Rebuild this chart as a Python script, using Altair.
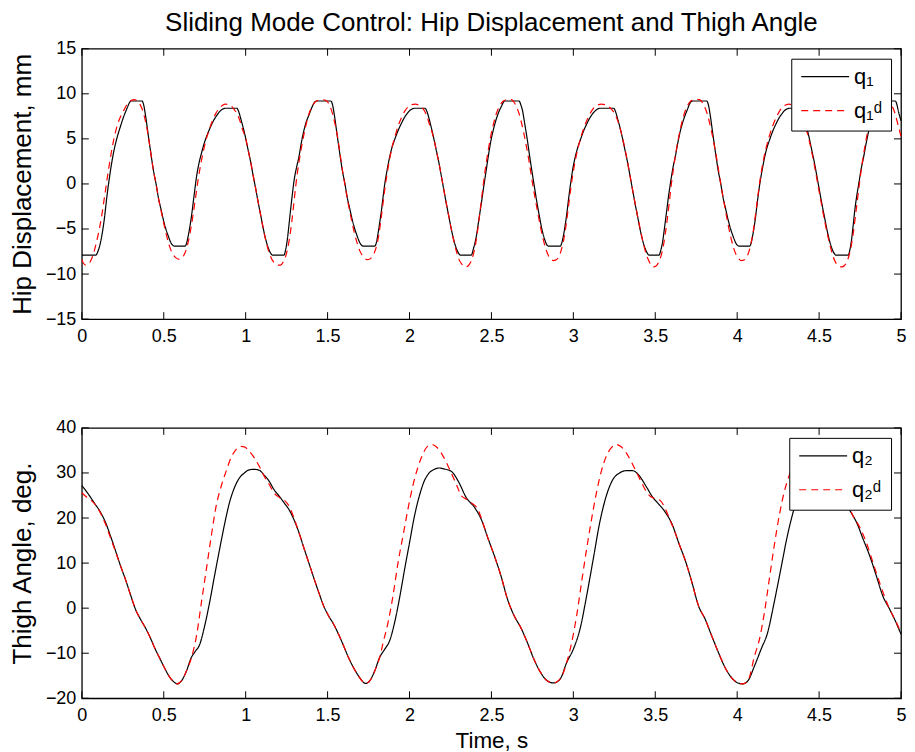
import altair as alt
import pandas as pd

# ---------------- data ----------------
x_ticks = [0, 0.5, 1, 1.5, 2, 2.5, 3, 3.5, 4, 4.5, 5]
y1_ticks = [-15, -10, -5, 0, 5, 10, 15]
y2_ticks = [-20, -10, 0, 10, 20, 30, 40]

series_top = ["q\u2081", "q\u2081\u1d48"]
series_bot = ["q\u2082", "q\u2082\u1d48"]

# hip displacement q1 (black, solid)
q1_pts = [
    (0.000, -7.9), (0.085, -7.9), (0.100, -7.4), (0.115, -6.4), (0.135, -4.2), (0.155, -1.1),
    (0.175, 1.5), (0.196, 3.7), (0.216, 5.2), (0.236, 6.4), (0.256, 7.5), (0.276, 8.4),
    (0.290, 9.0), (0.300, 9.2), (0.367, 9.2), (0.377, 8.8), (0.387, 7.8), (0.407, 5.2),
    (0.422, 3.3), (0.437, 1.5), (0.453, 0.0), (0.468, -1.6), (0.483, -2.8), (0.498, -4.0),
    (0.513, -5.0), (0.528, -5.8), (0.543, -6.5), (0.558, -6.85), (0.568, -6.9), (0.629, -6.9),
    (0.639, -6.6), (0.649, -5.8), (0.659, -4.8), (0.669, -3.6), (0.685, -1.3), (0.700, 0.8),
    (0.715, 2.3), (0.730, 3.4), (0.745, 4.4), (0.760, 5.2), (0.780, 6.1), (0.800, 6.9),
    (0.820, 7.5), (0.840, 8.0), (0.860, 8.3), (0.875, 8.4), (0.946, 8.4), (0.958, 8.0),
    (0.972, 7.1), (0.987, 6.1), (1.002, 4.9), (1.017, 3.6), (1.032, 2.3), (1.047, 0.8),
    (1.063, -0.7), (1.078, -2.2), (1.093, -3.6), (1.108, -5.0), (1.123, -6.2), (1.138, -7.1),
    (1.153, -7.7), (1.165, -7.9), (1.234, -7.9), (1.244, -7.3), (1.254, -6.2), (1.264, -4.6),
    (1.274, -2.9), (1.284, -1.3), (1.294, 0.2), (1.310, 1.8), (1.325, 3.0), (1.340, 4.6),
    (1.355, 5.9), (1.370, 6.9), (1.385, 7.6), (1.400, 8.3), (1.415, 8.9), (1.425, 9.15),
    (1.435, 9.2), (1.520, 9.2), (1.530, 8.8), (1.540, 7.8), (1.560, 5.2), (1.575, 3.3),
    (1.590, 1.5), (1.606, 0.0), (1.621, -1.6), (1.636, -2.8), (1.651, -4.0), (1.666, -5.0),
    (1.681, -5.8), (1.696, -6.5), (1.711, -6.85), (1.721, -6.9), (1.788, -6.9), (1.798, -6.5),
    (1.808, -5.5), (1.818, -4.3), (1.829, -2.9), (1.839, -1.4), (1.849, 0.0), (1.864, 1.6),
    (1.879, 3.0), (1.894, 4.1), (1.909, 4.9), (1.930, 5.9), (1.950, 6.7), (1.970, 7.4),
    (1.990, 7.9), (2.005, 8.2), (2.020, 8.35), (2.030, 8.4), (2.095, 8.4), (2.107, 8.0),
    (2.120, 7.2), (2.135, 6.1), (2.150, 4.9), (2.165, 3.6), (2.180, 2.3), (2.195, 0.8),
    (2.210, -0.7), (2.225, -2.2), (2.240, -3.6), (2.255, -5.0), (2.270, -6.2), (2.285, -7.1),
    (2.300, -7.7), (2.310, -7.9), (2.377, -7.9), (2.390, -7.2), (2.408, -5.8), (2.423, -4.0),
    (2.438, -2.2), (2.453, -0.3), (2.468, 1.5), (2.483, 3.3), (2.498, 4.9), (2.513, 6.1),
    (2.528, 7.1), (2.543, 7.9), (2.558, 8.5), (2.570, 8.95), (2.580, 9.2), (2.669, 9.2),
    (2.679, 8.8), (2.689, 8.2), (2.704, 6.6), (2.719, 4.9), (2.734, 3.0), (2.749, 1.2),
    (2.764, -0.5), (2.779, -2.2), (2.794, -3.7), (2.809, -5.1), (2.824, -6.1), (2.840, -6.8),
    (2.850, -6.9), (2.920, -6.9), (2.930, -6.5), (2.940, -5.7), (2.950, -4.6), (2.960, -3.3),
    (2.972, -1.5), (2.983, 0.0), (2.998, 1.8), (3.013, 3.1), (3.028, 4.1), (3.043, 4.9),
    (3.063, 5.9), (3.083, 6.7), (3.103, 7.4), (3.123, 7.9), (3.143, 8.25), (3.160, 8.4),
    (3.246, 8.4), (3.258, 8.0), (3.272, 7.1), (3.287, 6.1), (3.302, 4.9), (3.317, 3.6),
    (3.332, 2.3), (3.347, 0.8), (3.362, -0.7), (3.377, -2.2), (3.392, -3.6), (3.407, -5.0),
    (3.422, -6.2), (3.437, -7.1), (3.452, -7.7), (3.462, -7.9), (3.523, -7.9), (3.533, -7.4),
    (3.545, -6.4), (3.557, -4.8), (3.569, -3.1), (3.580, -1.5), (3.592, 0.0), (3.607, 1.7),
    (3.622, 3.0), (3.637, 4.5), (3.652, 5.8), (3.667, 6.8), (3.682, 7.6), (3.697, 8.3),
    (3.710, 8.9), (3.720, 9.15), (3.730, 9.2), (3.814, 9.2), (3.824, 8.8), (3.834, 7.8),
    (3.854, 5.2), (3.869, 3.3), (3.884, 1.5), (3.900, 0.0), (3.915, -1.6), (3.930, -2.8),
    (3.945, -4.0), (3.960, -5.0), (3.975, -5.8), (3.990, -6.5), (4.005, -6.85), (4.015, -6.9),
    (4.076, -6.9), (4.086, -6.5), (4.096, -5.6), (4.106, -4.5), (4.116, -3.1), (4.126, -1.6),
    (4.138, 0.0), (4.153, 1.6), (4.168, 3.0), (4.183, 4.1), (4.198, 4.9), (4.218, 5.9),
    (4.238, 6.7), (4.258, 7.4), (4.278, 7.9), (4.293, 8.2), (4.308, 8.35), (4.318, 8.4),
    (4.387, 8.4), (4.399, 8.0), (4.412, 7.1), (4.427, 6.1), (4.442, 4.9), (4.457, 3.6),
    (4.472, 2.3), (4.487, 0.8), (4.502, -0.7), (4.517, -2.2), (4.532, -3.6), (4.547, -5.0),
    (4.562, -6.2), (4.577, -7.1), (4.592, -7.7), (4.602, -7.9), (4.678, -7.9), (4.688, -7.3),
    (4.698, -6.2), (4.708, -4.6), (4.718, -2.9), (4.730, -1.3), (4.742, 0.0), (4.757, 1.7),
    (4.772, 3.0), (4.787, 4.5), (4.802, 5.8), (4.817, 6.8), (4.832, 7.6), (4.847, 8.3),
    (4.862, 8.9), (4.872, 9.15), (4.882, 9.2), (4.965, 9.2), (4.975, 8.8), (4.985, 8.0),
    (5.000, 7.0),
]

# desired hip displacement q1d (red, dashed)
q1d_pts = [
    (0.000, -8.4), (0.010, -8.8), (0.025, -9.0), (0.040, -8.9), (0.055, -8.5), (0.070, -7.8),
    (0.085, -6.8), (0.100, -5.6), (0.118, -3.9), (0.138, -1.5), (0.158, 1.0), (0.178, 3.3),
    (0.198, 5.2), (0.218, 6.6), (0.240, 7.6), (0.260, 8.3), (0.275, 8.8), (0.290, 9.1),
    (0.305, 9.3), (0.320, 9.35), (0.335, 9.25), (0.350, 8.95), (0.365, 8.45), (0.380, 7.6),
    (0.395, 6.4), (0.410, 4.8), (0.422, 3.3), (0.437, 1.5), (0.453, 0.0), (0.468, -1.6),
    (0.483, -2.9), (0.498, -4.2), (0.513, -5.4), (0.528, -6.5), (0.545, -7.4), (0.560, -7.9),
    (0.575, -8.2), (0.590, -8.35), (0.605, -8.3), (0.620, -8.0), (0.635, -7.4), (0.650, -6.4),
    (0.665, -5.0), (0.680, -3.3), (0.695, -1.4), (0.710, 0.5), (0.725, 2.1), (0.740, 3.5),
    (0.757, 4.8), (0.777, 6.0), (0.797, 7.0), (0.817, 7.8), (0.837, 8.35), (0.857, 8.7),
    (0.877, 8.85), (0.897, 8.8), (0.915, 8.6), (0.932, 8.2), (0.950, 7.7), (0.965, 7.0),
    (0.980, 6.1), (1.002, 4.9), (1.017, 3.6), (1.032, 2.3), (1.047, 0.8), (1.063, -0.7),
    (1.078, -2.2), (1.093, -3.6), (1.108, -5.0), (1.123, -6.3), (1.138, -7.3), (1.153, -8.1),
    (1.168, -8.6), (1.183, -8.9), (1.198, -9.0), (1.213, -9.0), (1.228, -8.7), (1.243, -8.1),
    (1.256, -7.2), (1.268, -6.0), (1.280, -4.4), (1.292, -2.5), (1.305, -0.3), (1.325, 2.4),
    (1.345, 4.5), (1.365, 6.3), (1.385, 7.7), (1.405, 8.6), (1.425, 9.1), (1.445, 9.3),
    (1.465, 9.35), (1.485, 9.3), (1.500, 9.1), (1.515, 8.6), (1.530, 7.8), (1.545, 6.7),
    (1.560, 5.3), (1.575, 3.5), (1.590, 1.6), (1.606, -0.1), (1.621, -1.7), (1.636, -3.1),
    (1.651, -4.4), (1.666, -5.6), (1.681, -6.6), (1.696, -7.4), (1.711, -7.9), (1.726, -8.25),
    (1.741, -8.4), (1.756, -8.35), (1.771, -8.1), (1.786, -7.6), (1.800, -6.8), (1.812, -5.7),
    (1.824, -4.2), (1.836, -2.5), (1.849, -0.6), (1.864, 1.2), (1.879, 2.8), (1.894, 4.1),
    (1.912, 5.3), (1.932, 6.5), (1.952, 7.4), (1.972, 8.1), (1.992, 8.55), (2.012, 8.8),
    (2.035, 8.85), (2.060, 8.7), (2.080, 8.4), (2.097, 7.9), (2.110, 7.3), (2.122, 6.6),
    (2.135, 5.9), (2.150, 4.9), (2.165, 3.6), (2.180, 2.3), (2.195, 0.8), (2.210, -0.7),
    (2.225, -2.2), (2.240, -3.6), (2.255, -5.0), (2.270, -6.3), (2.285, -7.4), (2.300, -8.3),
    (2.315, -8.8), (2.330, -9.1), (2.345, -9.2), (2.360, -9.05), (2.375, -8.6), (2.390, -7.8),
    (2.402, -6.8), (2.414, -5.4), (2.426, -3.7), (2.438, -1.9), (2.453, 0.3), (2.468, 2.3),
    (2.483, 4.0), (2.498, 5.5), (2.513, 6.7), (2.528, 7.7), (2.543, 8.4), (2.558, 8.9),
    (2.573, 9.2), (2.590, 9.35), (2.607, 9.4), (2.622, 9.35), (2.637, 9.1), (2.652, 8.6),
    (2.667, 7.9), (2.682, 6.9), (2.697, 5.7), (2.712, 4.3), (2.727, 2.8), (2.742, 1.1),
    (2.757, -0.6), (2.772, -2.1), (2.787, -3.6), (2.802, -5.0), (2.817, -6.2), (2.832, -7.2),
    (2.847, -7.9), (2.862, -8.3), (2.877, -8.5), (2.892, -8.45), (2.907, -8.2), (2.922, -7.6),
    (2.935, -6.7), (2.947, -5.6), (2.959, -4.1), (2.971, -2.4), (2.985, -0.4), (3.000, 1.4),
    (3.015, 2.9), (3.030, 4.1), (3.048, 5.3), (3.068, 6.4), (3.088, 7.3), (3.108, 8.0),
    (3.128, 8.5), (3.148, 8.75), (3.170, 8.85), (3.195, 8.8), (3.215, 8.6), (3.235, 8.25),
    (3.252, 7.8), (3.265, 7.3), (3.280, 6.5), (3.295, 5.5), (3.310, 4.3), (3.325, 3.0),
    (3.340, 1.5), (3.355, 0.0), (3.370, -1.5), (3.385, -2.9), (3.400, -4.3), (3.415, -5.6),
    (3.430, -6.8), (3.445, -7.8), (3.460, -8.5), (3.475, -9.0), (3.490, -9.2), (3.505, -9.1),
    (3.520, -8.7), (3.535, -8.0), (3.548, -7.0), (3.560, -5.7), (3.572, -4.1), (3.584, -2.3),
    (3.597, -0.2), (3.612, 1.8), (3.627, 3.6), (3.642, 5.1), (3.657, 6.4), (3.672, 7.5),
    (3.687, 8.3), (3.702, 8.85), (3.717, 9.2), (3.735, 9.35), (3.752, 9.4), (3.770, 9.35),
    (3.785, 9.1), (3.800, 8.6), (3.815, 7.9), (3.830, 6.9), (3.845, 5.7), (3.860, 4.3),
    (3.875, 2.8), (3.890, 1.1), (3.905, -0.6), (3.920, -2.1), (3.935, -3.6), (3.950, -5.0),
    (3.965, -6.2), (3.980, -7.2), (3.995, -7.9), (4.010, -8.3), (4.025, -8.5), (4.040, -8.45),
    (4.055, -8.2), (4.070, -7.6), (4.083, -6.7), (4.095, -5.6), (4.107, -4.1), (4.119, -2.4),
    (4.133, -0.4), (4.148, 1.4), (4.163, 2.9), (4.178, 4.1), (4.196, 5.3), (4.216, 6.4),
    (4.236, 7.3), (4.256, 8.0), (4.276, 8.5), (4.296, 8.75), (4.316, 8.85), (4.336, 8.75),
    (4.353, 8.55), (4.370, 8.2), (4.385, 7.8), (4.400, 7.2), (4.415, 6.4), (4.430, 5.5),
    (4.445, 4.4), (4.460, 3.1), (4.475, 1.7), (4.490, 0.2), (4.505, -1.3), (4.520, -2.8),
    (4.535, -4.2), (4.550, -5.5), (4.565, -6.7), (4.580, -7.7), (4.595, -8.5), (4.610, -8.95),
    (4.625, -9.15), (4.640, -9.2), (4.655, -9.05), (4.670, -8.6), (4.685, -7.8), (4.697, -6.8),
    (4.709, -5.4), (4.721, -3.7), (4.733, -1.9), (4.748, 0.3), (4.763, 2.3), (4.778, 4.0),
    (4.793, 5.5), (4.808, 6.7), (4.823, 7.7), (4.838, 8.4), (4.853, 8.9), (4.868, 9.2),
    (4.885, 9.35), (4.902, 9.4), (4.917, 9.35), (4.932, 9.1), (4.947, 8.6), (4.962, 7.9),
    (4.977, 6.9), (4.990, 6.0), (5.000, 5.2),
]

# thigh angle q2 (black, solid)
q2_pts = [
    (0.000, 27.2), (0.034, 25.6), (0.075, 23.4), (0.115, 21.2), (0.145, 19.0), (0.175, 16.0),
    (0.206, 12.7), (0.236, 9.4), (0.266, 6.4), (0.296, 3.1), (0.327, -0.2), (0.357, -2.4),
    (0.387, -4.3), (0.417, -6.5), (0.448, -9.1), (0.478, -11.3), (0.508, -13.5), (0.538, -15.4),
    (0.560, -16.3), (0.583, -16.8), (0.609, -16.1), (0.639, -13.9), (0.669, -10.9), (0.690, -9.7),
    (0.720, -8.0), (0.750, -3.9), (0.780, 1.3), (0.810, 7.2), (0.841, 13.1), (0.871, 18.6),
    (0.901, 23.4), (0.931, 26.7), (0.962, 28.9), (0.992, 30.0), (1.022, 30.7), (1.052, 30.8),
    (1.083, 30.6), (1.113, 29.5), (1.143, 28.2), (1.173, 26.3), (1.204, 24.9), (1.234, 23.4),
    (1.264, 21.9), (1.294, 19.7), (1.325, 16.8), (1.355, 13.4), (1.385, 10.1), (1.415, 6.8),
    (1.446, 3.5), (1.476, 0.5), (1.506, -1.7), (1.536, -3.5), (1.567, -5.8), (1.597, -8.3),
    (1.627, -10.9), (1.657, -13.1), (1.688, -15.0), (1.710, -16.1), (1.732, -16.7), (1.758, -16.1),
    (1.788, -13.9), (1.818, -10.9), (1.849, -9.1), (1.879, -7.2), (1.909, -3.2), (1.940, 2.4),
    (1.970, 8.6), (2.000, 14.5), (2.030, 20.4), (2.060, 24.9), (2.090, 28.2), (2.120, 30.0),
    (2.151, 30.8), (2.181, 31.1), (2.210, 30.9), (2.257, 30.3), (2.297, 28.2), (2.347, 24.5),
    (2.398, 22.3), (2.438, 19.7), (2.478, 15.6), (2.518, 11.6), (2.558, 7.2), (2.598, 2.0),
    (2.639, -1.7), (2.679, -4.3), (2.719, -7.6), (2.759, -11.3), (2.799, -14.2), (2.840, -16.1),
    (2.880, -16.6), (2.920, -15.7), (2.960, -12.0), (3.000, -9.1), (3.041, -4.6), (3.081, 2.7),
    (3.121, 10.8), (3.161, 19.0), (3.201, 24.9), (3.242, 28.6), (3.282, 30.0), (3.322, 30.5),
    (3.362, 30.5), (3.402, 29.4), (3.443, 27.1), (3.483, 24.7), (3.523, 23.0), (3.563, 21.2),
    (3.603, 18.6), (3.643, 14.5), (3.684, 10.5), (3.724, 5.7), (3.764, 0.5), (3.804, -2.4),
    (3.844, -6.1), (3.885, -9.8), (3.925, -13.1), (3.965, -15.4), (4.005, -16.6), (4.035, -16.8),
    (4.066, -16.1), (4.106, -12.8), (4.146, -9.1), (4.186, -5.4), (4.226, 1.3), (4.266, 8.6),
    (4.306, 16.0), (4.346, 21.9), (4.386, 26.5), (4.426, 29.2), (4.466, 30.3), (4.506, 30.5),
    (4.546, 29.8), (4.586, 27.8), (4.626, 25.0), (4.666, 23.0), (4.689, 21.6), (4.729, 19.0),
    (4.769, 15.3), (4.809, 11.6), (4.849, 7.2), (4.889, 2.7), (4.930, -0.2), (4.970, -3.2),
    (5.000, -5.8),
]

# desired thigh angle q2d (red, dashed)
q2d_pts = [
    (0.000, 25.6), (0.030, 24.6), (0.060, 23.8), (0.090, 22.6), (0.115, 21.0), (0.145, 18.6),
    (0.175, 15.6), (0.206, 12.5), (0.236, 9.4), (0.266, 6.4), (0.296, 3.1), (0.327, -0.2),
    (0.357, -2.4), (0.387, -4.3), (0.417, -6.5), (0.448, -9.1), (0.478, -11.3), (0.508, -13.5),
    (0.538, -15.4), (0.560, -16.3), (0.583, -16.8), (0.609, -16.1), (0.639, -13.9), (0.669, -11.0),
    (0.700, -6.1), (0.730, 1.3), (0.760, 8.6), (0.790, 16.0), (0.820, 22.7), (0.851, 27.1),
    (0.881, 30.4), (0.911, 33.4), (0.941, 35.2), (0.972, 35.9), (0.992, 35.8), (1.022, 34.8),
    (1.052, 33.4), (1.083, 31.5), (1.113, 29.3), (1.143, 27.5), (1.173, 25.6), (1.204, 24.6),
    (1.234, 24.0), (1.264, 22.7), (1.294, 20.1), (1.325, 16.8), (1.355, 13.4), (1.385, 10.1),
    (1.415, 6.8), (1.446, 3.5), (1.476, 0.5), (1.506, -1.7), (1.536, -3.5), (1.567, -5.8),
    (1.597, -8.3), (1.627, -10.9), (1.657, -13.1), (1.688, -15.0), (1.710, -16.1), (1.732, -16.7),
    (1.758, -16.1), (1.788, -13.9), (1.818, -10.9), (1.840, -7.5), (1.869, -3.2), (1.899, 2.7),
    (1.930, 10.1), (1.960, 16.0), (1.990, 21.9), (2.020, 27.1), (2.050, 31.1), (2.080, 34.1),
    (2.110, 35.9), (2.140, 36.3), (2.170, 35.6), (2.210, 33.4), (2.250, 30.4), (2.290, 27.1),
    (2.317, 24.9), (2.357, 24.0), (2.380, 23.3), (2.418, 21.9), (2.438, 20.0), (2.478, 15.6),
    (2.518, 11.6), (2.558, 7.2), (2.598, 2.0), (2.639, -1.7), (2.679, -4.3), (2.719, -7.6),
    (2.759, -11.3), (2.799, -14.2), (2.840, -16.1), (2.880, -16.6), (2.920, -15.7), (2.960, -12.0),
    (2.990, -7.6), (3.020, -1.7), (3.050, 5.7), (3.081, 13.1), (3.111, 19.7), (3.141, 25.6),
    (3.171, 30.4), (3.201, 33.7), (3.232, 35.6), (3.262, 36.3), (3.292, 35.8), (3.322, 34.5),
    (3.352, 32.6), (3.382, 30.4), (3.412, 28.2), (3.443, 26.0), (3.473, 24.7), (3.503, 24.3),
    (3.533, 23.8), (3.563, 21.9), (3.593, 19.3), (3.623, 16.6), (3.643, 14.5), (3.684, 10.5),
    (3.724, 5.7), (3.764, 0.5), (3.804, -2.4), (3.844, -6.1), (3.885, -9.8), (3.925, -13.1),
    (3.965, -15.4), (4.005, -16.6), (4.035, -16.8), (4.066, -16.1), (4.106, -10.6), (4.136, -6.9),
    (4.166, -1.0), (4.196, 6.4), (4.226, 13.8), (4.256, 20.4), (4.286, 25.6), (4.316, 29.3),
    (4.346, 31.9), (4.376, 34.2), (4.406, 35.6), (4.436, 36.0), (4.466, 35.4), (4.496, 33.8),
    (4.526, 31.8), (4.556, 29.6), (4.586, 27.5), (4.616, 25.6), (4.646, 24.4), (4.676, 23.2),
    (4.700, 21.0), (4.749, 17.9), (4.789, 14.5), (4.829, 10.1), (4.869, 5.7), (4.930, -0.2),
    (4.970, -3.0), (5.000, -5.4),
]

# ---------------- build tables ----------------
def frame(pts, name):
    return pd.DataFrame({"t": [p[0] for p in pts], "v": [p[1] for p in pts], "series": name})

df_top = pd.concat([frame(q1_pts, series_top[0]), frame(q1d_pts, series_top[1])], ignore_index=True)
df_bot = pd.concat([frame(q2_pts, series_bot[0]), frame(q2d_pts, series_bot[1])], ignore_index=True)

W, H = 821, 271
TL = 7  # inward tick length
FONT = "Liberation Sans, Arial, Helvetica, DejaVu Sans, sans-serif"


def panel(df, series, ydom, yticks, ytitle, xtitle):
    xscale = alt.Scale(domain=[0, 5], nice=False, zero=False)
    yscale = alt.Scale(domain=ydom, nice=False, zero=False)
    if xtitle is None:
        xaxis = alt.Axis(values=x_ticks, format="~r", title=None, labelPadding=8)
    else:
        xaxis = alt.Axis(values=x_ticks, format="~r", title=xtitle, labelPadding=8,
                         titlePadding=5, titleFontSize=22.5)
    yaxis = alt.Axis(values=yticks, format="~r", title=ytitle, labelPadding=6, titlePadding=10)
    leg = alt.Legend(title=None,
                     symbolDash={"expr": "datum.index == 1 ? [7, 5] : [1, 0]"})
    lines = alt.Chart(df).mark_line(strokeWidth=1.2, interpolate="monotone").encode(
        x=alt.X("t:Q", scale=xscale, axis=xaxis),
        y=alt.Y("v:Q", scale=yscale, axis=yaxis),
        color=alt.Color("series:N", scale=alt.Scale(domain=series, range=["black", "red"]), legend=leg),
        strokeDash=alt.StrokeDash("series:N", scale=alt.Scale(domain=series, range=[[1, 0], [7, 5]]),
                                  legend=None),
    )
    xdf = pd.DataFrame({"t": x_ticks})
    ydf = pd.DataFrame({"v": yticks})
    xt_top = alt.Chart(xdf).mark_rule(color="black", strokeWidth=1).encode(
        x=alt.X("t:Q", scale=xscale, axis=xaxis), y=alt.value(0), y2=alt.value(TL))
    xt_bot = alt.Chart(xdf).mark_rule(color="black", strokeWidth=1).encode(
        x=alt.X("t:Q", scale=xscale, axis=xaxis), y=alt.value(H - TL), y2=alt.value(H))
    yt_left = alt.Chart(ydf).mark_rule(color="black", strokeWidth=1).encode(
        y=alt.Y("v:Q", scale=yscale, axis=yaxis), x=alt.value(0), x2=alt.value(TL))
    yt_right = alt.Chart(ydf).mark_rule(color="black", strokeWidth=1).encode(
        y=alt.Y("v:Q", scale=yscale, axis=yaxis), x=alt.value(W - TL), x2=alt.value(W))
    return alt.layer(lines, xt_top, xt_bot, yt_left, yt_right).properties(width=W, height=H)


top = panel(df_top, series_top, [-15, 15], y1_ticks, "Hip Displacement, mm", None).properties(
    title=alt.TitleParams("Sliding Mode Control: Hip Displacement and Thigh Angle",
                          anchor="middle", frame="group", offset=4))
bottom = panel(df_bot, series_bot, [-20, 40], y2_ticks, "Thigh Angle, deg.", "Time, s")

chart = (
    alt.vconcat(top, bottom, spacing=72)
    .properties(padding={"left": 0, "top": 0, "right": 0, "bottom": 0})
    .resolve_scale(x="independent", y="independent", color="independent", strokeDash="independent")
    .resolve_legend(color="independent", strokeDash="independent")
    .configure_view(stroke="black", strokeWidth=1.3)
    .configure_axis(labelFont=FONT, titleFont=FONT, labelColor="black", titleColor="black",
                    labelFontSize=18, titleFontSize=26, titleFontWeight="normal", grid=False,
                    ticks=False, domain=False, labelFlush=False)
    .configure_title(font=FONT, fontSize=26, fontWeight="normal", color="black")
    .configure_legend(orient="top-right", offset=10, fillColor="white", strokeColor="black",
                      padding=9, symbolType="stroke", symbolSize=2304, symbolStrokeWidth=1.2,
                      labelFont=FONT, labelFontSize=22, labelColor="black", clipHeight=18,
                      rowPadding=12, labelOffset=4)
)

chart.save("out.html", embed_options={"renderer": "svg", "actions": False})
